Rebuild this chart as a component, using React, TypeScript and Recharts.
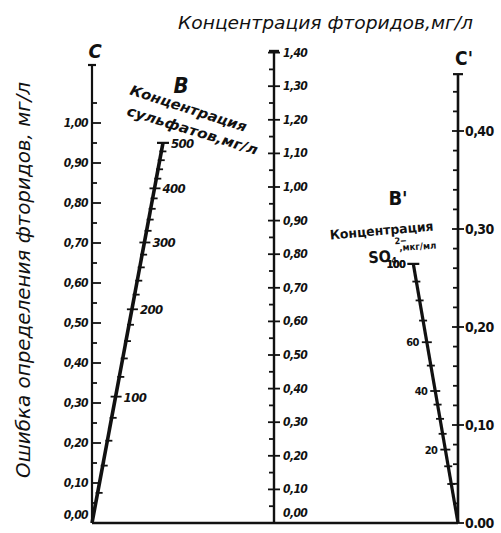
import React from "react";
import { ComposedChart, Customized, Line, Scatter, XAxis, YAxis } from "recharts";

const W = 501;
const H = 533;
const BASE = 523; // row of the zero line
const PX_ERR = 400; // px per 1 mg/l, scale C
const PX_FL = 336; // px per 1 mg/l, fluoride scale
const PX_CP = 980; // px per 1 mg/l, scale C'

const X_C = 92;
const X_F = 274;
const X_CP = 458;

const FONT = '"DejaVu Sans Condensed", "DejaVu Sans", sans-serif';
const INK = "#111";

// scale C: error of fluoride determination, mg/l
const errorMajor = [0, 0.1, 0.2, 0.3, 0.4, 0.5, 0.6, 0.7, 0.8, 0.9, 1.0];
const errorLabels = ["0,00", "0,10", "0,20", "0,30", "0,40", "0,50", "0,60", "0,70", "0,80", "0,90", "1,00"];
const errorMinor = [0.05, 0.15, 0.25, 0.35, 0.45, 0.55, 0.65, 0.75, 0.85, 0.95, 1.05];
const errorTop = 1.145;

// middle scale: fluoride concentration, mg/l
const fluorMajor = [0, 0.1, 0.2, 0.3, 0.4, 0.5, 0.6, 0.7, 0.8, 0.9, 1.0, 1.1, 1.2, 1.3, 1.4];
const fluorLabels = ["0,00", "0,10", "0,20", "0,30", "0,40", "0,50", "0,60", "0,70", "0,80", "0,90", "1,00", "1,10", "1,20", "1,30", "1,40"];
const fluorMinor = [0.05, 0.15, 0.25, 0.35, 0.45, 0.55, 0.65, 0.75, 0.85, 0.95, 1.05, 1.15, 1.25, 1.35];
const fluorTop = 1.405;

// scale C'
const cpMajor = [0, 0.1, 0.2, 0.3, 0.4];
const cpLabels = ["0.00", "0,10", "0,20", "0,30", "0,40"];
const cpMinor = [0.02, 0.04, 0.06, 0.08, 0.12, 0.14, 0.16, 0.18, 0.22, 0.24, 0.26, 0.28, 0.32, 0.34, 0.36, 0.38, 0.42, 0.44];
const cpTop = 0.458;

// scale B: sulphate concentration, mg/l
const sulfMajor = [100, 200, 300, 400, 500];
const sulfMinor = [20, 40, 60, 80, 120, 140, 160, 180, 220, 240, 260, 280, 320, 340, 360, 380, 420, 440, 460, 480];

// scale B': SO4 2-, mkg/ml
const so4Major = [20, 40, 60, 100];
const so4Minor = [10, 15, 25, 30, 35, 50, 70, 80, 90];

// nomogram scales B and B' (log with offset), in units of C and C'
const bScale = (s: number) => 0.715 * Math.log(1 + s / 180);
const B_SLOPE = 74.7;
const bPoint = (s: number) => ({ x: X_C + B_SLOPE * bScale(s), y: bScale(s) });

const bpScale = (v: number) => 0.298 * Math.log(1 + v / 70);
const BP_SLOPE = 169;
const bpPoint = (v: number) => ({ x: X_CP - BP_SLOPE * bpScale(v), y: bpScale(v) });

const dom = (px: number) => [-(H - BASE) / px, BASE / px];

const lineC = [{ x: X_C, y: 0 }, { x: X_C, y: errorTop }];
const lineBase = [{ x: X_C, y: 0 }, { x: X_CP, y: 0 }];
const lineF = [{ x: X_F, y: 0 }, { x: X_F, y: fluorTop }];
const lineCP = [{ x: X_CP, y: 0 }, { x: X_CP, y: cpTop }];
const lineB = [bPoint(0), bPoint(500)];
const lineBP = [bpPoint(0), bpPoint(100)];

const cTicks = [
    ...errorMajor.map((v, i) => ({ x: X_C, y: v, major: true, label: errorLabels[i] })),
    ...errorMinor.map((v) => ({ x: X_C, y: v, major: false })),
    { x: X_C, y: errorTop, cap: true },
];
const fTicks = [
    ...fluorMajor.map((v, i) => ({ x: X_F, y: v, major: true, label: fluorLabels[i] })),
    ...fluorMinor.map((v) => ({ x: X_F, y: v, major: false })),
    { x: X_F, y: fluorTop, cap: true },
];
const cpTicks = [
    ...cpMajor.map((v, i) => ({ x: X_CP, y: v, major: true, label: cpLabels[i] })),
    ...cpMinor.map((v) => ({ x: X_CP, y: v, major: false })),
    { x: X_CP, y: cpTop, cap: true },
];
const bTicks = [
    ...sulfMajor.map((s) => ({ ...bPoint(s), major: true, label: String(s), cap: s === 500 })),
    ...sulfMinor.map((s) => ({ ...bPoint(s), major: false })),
];
const bpTicks = [
    ...so4Major.map((v) => ({ ...bpPoint(v), major: true, label: String(v) })),
    ...so4Minor.map((v) => ({ ...bpPoint(v), major: false })),
    { ...bpPoint(100), major: true, label: "100", cap: true },
];

interface TickOpts {
    major: [number, number];
    minor: [number, number];
    cap: number;
    dx: number;
    dy: number;
    dy0: number;
    anchor: "start" | "end";
    size: number;
    italic: boolean;
}

const makeShape = (o: TickOpts) => (props: any) => {
    const { cx, cy } = props;
    const p = props.payload ?? props;
    if (cx == null || cy == null) return <g />;
    const [a, b] = p.major ? o.major : o.minor;
    return (
        <g>
            {p.cap ? (
                <line x1={cx - o.cap} x2={cx + o.cap} y1={cy} y2={cy} stroke={INK} strokeWidth={2.2} />
            ) : (
                <line x1={cx + a} x2={cx + b} y1={cy} y2={cy} stroke={INK} strokeWidth={1.8} />
            )}
            {p.label && (
                <text
                    x={cx + o.dx}
                    y={cy + (p.y === 0 ? o.dy0 : o.dy)}
                    textAnchor={o.anchor}
                    fontFamily={FONT}
                    fontSize={o.size}
                    fontWeight={700}
                    fontStyle={o.italic ? "italic" : "normal"}
                    letterSpacing={-0.6}
                    fill={INK}
                >
                    {p.label}
                </text>
            )}
        </g>
    );
};

const cShape = makeShape({ major: [0, 9], minor: [0, 5], cap: 4, dx: -4, dy: 4, dy0: -4, anchor: "end", size: 12, italic: true });
const fShape = makeShape({ major: [-6, 6], minor: [-5, 0], cap: 5, dx: 9, dy: 4, dy0: -6, anchor: "start", size: 12, italic: true });
const cpShape = makeShape({ major: [-6, 6], minor: [-5, 0], cap: 5, dx: 7, dy: 5, dy0: 5, anchor: "start", size: 14, italic: false });
const bShape = makeShape({ major: [-5, 6], minor: [-2, 5], cap: 6, dx: 8, dy: 5, dy0: 5, anchor: "start", size: 13, italic: true });
const bpShape = makeShape({ major: [-5, 5], minor: [-4, 4], cap: 6, dx: -8, dy: 4, dy0: 4, anchor: "end", size: 11, italic: false });

const Texts = () => (
    <g fill={INK} fontFamily={FONT}>
        <text x={178} y={29} fontSize={17} fontStyle="italic" textLength={295} lengthAdjust="spacingAndGlyphs">
            Концентрация фторидов,мг/л
        </text>
        <text
            x={23}
            y={280}
            fontSize={20}
            fontStyle="italic"
            textAnchor="middle"
            transform="rotate(-90 23 280)"
            dy={7}
            textLength={396}
            lengthAdjust="spacingAndGlyphs"
        >
            Ошибка определения фторидов, мг/л
        </text>
        <text x={95} y={58} fontSize={20} fontWeight={700} fontStyle="italic" textAnchor="middle">C</text>
        <text x={464} y={65} fontSize={19} fontWeight={700} textAnchor="middle">C'</text>
        <text x={181} y={93} fontSize={22} fontWeight={700} fontStyle="italic" textAnchor="middle">B</text>
        <text x={398} y={205} fontSize={20} fontWeight={700} textAnchor="middle">B'</text>
        <g transform="rotate(18 187 113)">
            <text x={187} y={113} fontSize={14} fontWeight={700} fontStyle="italic" textAnchor="middle" textLength={122} lengthAdjust="spacingAndGlyphs">
                Концентрация
            </text>
        </g>
        <g transform="rotate(17 191 135)">
            <text x={191} y={135} fontSize={14} fontWeight={700} fontStyle="italic" textAnchor="middle" textLength={136} lengthAdjust="spacingAndGlyphs">
                сульфатов,мг/л
            </text>
        </g>
        <g transform="rotate(-5 382 235)">
            <text x={382} y={235} fontSize={13} fontWeight={700} textAnchor="middle" textLength={104} lengthAdjust="spacingAndGlyphs">
                Концентрация
            </text>
        </g>
        <g transform="rotate(-4 400 252)">
            <text x={368} y={261} fontSize={16} fontWeight={700}>
                SO
                <tspan fontSize={9} dy={2}>4</tspan>
                <tspan fontSize={9} dx={-1} dy={-19}>2−</tspan>
                <tspan fontSize={9.5} dx={-8} dy={7}>,мкг/мл</tspan>
            </text>
        </g>
    </g>
);

const App = () => {
    return (
        <div style={{ position: "absolute", left: 0, top: 0, width: W, height: H, background: "#fff" }}>
            <ComposedChart width={W} height={H} margin={{ top: 0, right: 0, bottom: 0, left: 0 }}>
                <XAxis type="number" dataKey="x" domain={[0, W]} hide allowDataOverflow />
                <YAxis yAxisId="err" type="number" dataKey="y" domain={dom(PX_ERR)} hide allowDataOverflow />
                <YAxis yAxisId="fl" type="number" dataKey="y" domain={dom(PX_FL)} hide allowDataOverflow />
                <YAxis yAxisId="cp" type="number" dataKey="y" domain={dom(PX_CP)} hide allowDataOverflow />

                <Line yAxisId="err" data={lineC} dataKey="y" stroke={INK} strokeWidth={2.2} dot={false} activeDot={false} isAnimationActive={false} />
                <Line yAxisId="err" data={lineBase} dataKey="y" stroke={INK} strokeWidth={2.6} dot={false} activeDot={false} isAnimationActive={false} />
                <Line yAxisId="fl" data={lineF} dataKey="y" stroke={INK} strokeWidth={2.4} dot={false} activeDot={false} isAnimationActive={false} />
                <Line yAxisId="cp" data={lineCP} dataKey="y" stroke={INK} strokeWidth={2.6} dot={false} activeDot={false} isAnimationActive={false} />
                <Line yAxisId="err" data={lineB} dataKey="y" stroke={INK} strokeWidth={3.6} dot={false} activeDot={false} isAnimationActive={false} />
                <Line yAxisId="cp" data={lineBP} dataKey="y" stroke={INK} strokeWidth={3.2} dot={false} activeDot={false} isAnimationActive={false} />

                <Scatter yAxisId="err" data={cTicks} shape={cShape} fill="none" isAnimationActive={false} />
                <Scatter yAxisId="fl" data={fTicks} shape={fShape} fill="none" isAnimationActive={false} />
                <Scatter yAxisId="cp" data={cpTicks} shape={cpShape} fill="none" isAnimationActive={false} />
                <Scatter yAxisId="err" data={bTicks} shape={bShape} fill="none" isAnimationActive={false} />
                <Scatter yAxisId="cp" data={bpTicks} shape={bpShape} fill="none" isAnimationActive={false} />

                <Customized component={<Texts />} />
            </ComposedChart>
        </div>
    );
};

export default App;
